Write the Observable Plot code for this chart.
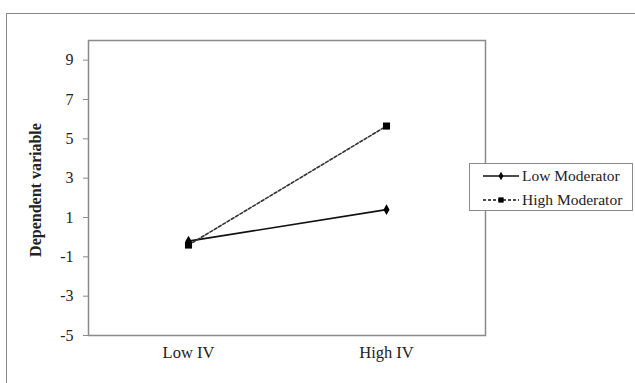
<!DOCTYPE html>
<html>
<head>
<meta charset="utf-8">
<script src="https://cdn.jsdelivr.net/npm/d3@7"></script>
<script src="https://cdn.jsdelivr.net/npm/@observablehq/plot@0.6"></script>
<style>
  body { margin: 0; background: #fff; }
  #wrap { position: relative; width: 635px; height: 383px; overflow: hidden; font-family: "Liberation Serif", "Times New Roman", serif; }
  #outer { position: absolute; left: 6px; top: 13px; width: 700px; height: 500px; border: 1px solid #8a8a8a; box-sizing: border-box; }
  #chart { position: absolute; left: 0; top: 0; }
  #legend { position: absolute; left: 469px; top: 163px; width: 164px; height: 48px; border: 1px solid #8a8a8a; box-sizing: border-box; background: #fff; font-size: 15.5px; color: #222; }
  .row { position: absolute; left: 13px; height: 18px; display: flex; align-items: center; white-space: nowrap; }
  .row svg { margin-right: 3px; }
</style>
</head>
<body>
<div id="wrap">
  <div id="outer"></div>
  <div id="chart"></div>
  <div id="legend"></div>
</div>
<script>
const categories = ["Low IV", "High IV"];
const seriesNames = ["Low Moderator", "High Moderator"];
const lowModerator = [-0.2, 1.4];
const highModerator = [-0.4, 5.65];
const yTicks = [-5, -3, -1, 1, 3, 5, 7, 9];

const data = [];
categories.forEach((c, i) => {
  data.push({ iv: c, value: lowModerator[i], series: seriesNames[0] });
  data.push({ iv: c, value: highModerator[i], series: seriesNames[1] });
});
const lowData = data.filter(d => d.series === seriesNames[0]);
const highData = data.filter(d => d.series === seriesNames[1]);

const chart = Plot.plot({
  width: 635,
  height: 383,
  marginLeft: 88,
  marginTop: 40,
  marginRight: 150,
  marginBottom: 48,
  style: { fontFamily: "Liberation Serif, Times New Roman, serif", fontSize: "16px", color: "#222", background: "transparent" },
  x: { type: "point", domain: categories, padding: 0.5 },
  y: { domain: [-5, 10] },
  marks: [
    Plot.frame({ stroke: "#8a8a8a", strokeWidth: 1.5 }),
    Plot.axisY({ ticks: yTicks, tickFormat: d => String(d), tickSize: 5, tickPadding: 10, label: null, stroke: "#8a8a8a", fontSize: "16px" }),
    Plot.axisX({ tickSize: 0, tickPadding: 11, label: null, fontSize: "16.5px" }),
    Plot.line(lowData, { x: "iv", y: "value", stroke: "#111", strokeWidth: 1.6 }),
    Plot.line(highData, { x: "iv", y: "value", stroke: "#333", strokeWidth: 1.6, strokeDasharray: "3,2" }),
    Plot.dot(highData, { x: "iv", y: "value", symbol: "square", fill: "#000", r: 4 }),
    Plot.dot(lowData, { x: "iv", y: "value", symbol: "diamond", fill: "#000", r: 3.2 }),
    Plot.text(["Dependent variable"], { frameAnchor: "left", dx: -53, dy: 2, rotate: -90, textAnchor: "middle", fontWeight: "bold", fontSize: 16 })
  ]
});
document.getElementById("chart").appendChild(chart);

// Legend
const legend = document.getElementById("legend");
const items = [
  { name: seriesNames[0], dash: null, sym: "diamond" },
  { name: seriesNames[1], dash: "3,2", sym: "square" }
];
items.forEach((it, i) => {
  const row = document.createElement("div");
  row.className = "row";
  row.style.top = (i === 0 ? 3 : 27) + "px";
  const ns = "http://www.w3.org/2000/svg";
  const svg = document.createElementNS(ns, "svg");
  svg.setAttribute("width", 36); svg.setAttribute("height", 12);
  const line = document.createElementNS(ns, "line");
  line.setAttribute("x1", 0); line.setAttribute("x2", 36);
  line.setAttribute("y1", 6); line.setAttribute("y2", 6);
  line.setAttribute("stroke", "#111"); line.setAttribute("stroke-width", 1.5);
  if (it.dash) line.setAttribute("stroke-dasharray", it.dash);
  svg.appendChild(line);
  const sym = document.createElementNS(ns, "path");
  const s = it.sym === "square" ? d3.symbolSquare : d3.symbolDiamond;
  sym.setAttribute("d", d3.symbol(s, it.sym === "square" ? 28 : 20)());
  sym.setAttribute("transform", "translate(18,6)");
  sym.setAttribute("fill", "#000");
  svg.appendChild(sym);
  row.appendChild(svg);
  const t = document.createElement("span");
  t.textContent = it.name;
  row.appendChild(t);
  legend.appendChild(row);
});
</script>
</body>
</html>
